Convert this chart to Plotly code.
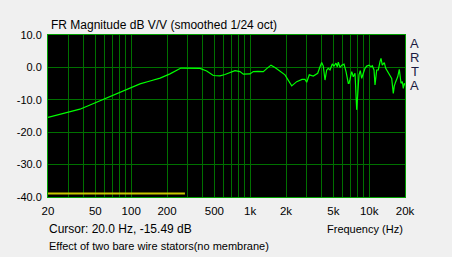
import plotly.graph_objects as go

# Frequency response (Hz, dB)
freq = [20, 30.6, 37.1, 45.1, 54.7, 66.4, 80.5, 97.7, 118.6, 144, 175, 212, 241, 262,
        379, 431, 490, 558, 614, 677, 745, 821, 875, 997, 1062, 1163, 1289, 1385, 1496,
        1616, 1780, 1961, 2234, 2460, 2726, 2888, 2986, 3138, 3392, 3694, 3862, 3990,
        4116, 4254, 4396, 4534, 4686, 4898, 5062, 5262, 5396, 5502, 5686, 5878, 6146,
        6388, 6678, 6768, 6900, 7132, 7356, 7602, 7856, 8010, 8212, 8422, 8652, 8926,
        9224, 9534, 9966, 10360, 10624, 10980, 11194, 11568, 11932, 12330, 12570, 12890,
        13400, 13768, 14312, 14958, 15460, 15948, 16260, 16706, 17368, 17914, 18514,
        18984, 19352, 19730, 20000]
mag_db = [-15.4, -13.7, -12.9, -11.6, -10.3, -8.8, -7.6, -6.4, -5.1, -4.2, -3.3, -2.0, -0.8, -0.2,
          -0.3, -1.1, -2.5, -2.6, -2.2, -1.5, -1.0, -1.3, -2.1, -2.0, -1.3, -1.2, -1.3, -0.3, 0.7,
          0.0, -1.3, -2.3, -5.7, -4.4, -3.7, -3.7, -4.6, -2.3, -2.65, -1.8, 0.2, 1.5,
          0.4, -3.9, -0.8, -0.3, -0.8, 1.05, 0.4, 1.3, 0.2, 1.6, 0.0, 0.7, 1.0,
          -1.3, -4.9, -4.9, -3.7, -1.3, -2.9, -1.8, -13.1, -9.0, -2.3, -1.0, -3.4, -1.8,
          -0.3, 0.4, 0.7, 0.2, 0.5, -0.8, -5.4, -0.8, -0.8, 1.8, 2.8, 0.7,
          1.5, -0.3, -1.3, -2.3, -3.4, -8.0, -5.7, -4.4, -2.9, -0.6, -4.9,
          -4.4, -6.5, -4.9, -5.5]

# Yellow reference line near the bottom
ref_freq = [20, 283]
ref_db = [-38.9, -38.9]

# Axis ticks
grid_freqs = [20, 30, 40, 50, 60, 70, 80, 90, 100, 200, 300, 400, 500, 600, 700, 800, 900,
              1000, 2000, 3000, 4000, 5000, 6000, 7000, 8000, 9000, 10000, 20000]
freq_labels = {20: "20", 50: "50", 100: "100", 200: "200", 500: "500", 1000: "1k",
               2000: "2k", 5000: "5k", 10000: "10k", 20000: "20k"}
y_ticks = [10, 0, -10, -20, -30, -40]
y_labels = ["10.0", "0.0", "-10.0", "-20.0", "-30.0", "-40.0"]

FONT = "Liberation Sans, Arial, sans-serif"
GRID = "#007000"
BORDER = "#00A000"

fig = go.Figure()
fig.add_trace(go.Scatter(x=ref_freq, y=ref_db, mode="lines",
                         line=dict(color="#C8C800", width=2), hoverinfo="skip"))
fig.add_trace(go.Scatter(x=freq, y=mag_db, mode="lines",
                         line=dict(color="#00FF00", width=1.2), hoverinfo="skip"))

fig.update_layout(
    width=452, height=257,
    margin=dict(l=48, r=47, t=35, b=60),
    paper_bgcolor="#F0F0F0", plot_bgcolor="#000000",
    showlegend=False,
    font=dict(family=FONT, size=11, color="#000000"),
    xaxis=dict(type="log", range=[1.30103, 4.30103],
               tickvals=grid_freqs,
               ticktext=[freq_labels.get(f, "") for f in grid_freqs],
               showgrid=True, gridcolor=GRID, gridwidth=1,
               showline=True, linecolor=BORDER, linewidth=1, mirror=True,
               zeroline=False, ticks="", ticklabelstandoff=3,
               tickfont=dict(size=11.5, color="#000000")),
    yaxis=dict(range=[-40, 10], tickvals=y_ticks, ticktext=y_labels,
               showgrid=True, gridcolor=GRID, gridwidth=1,
               showline=True, linecolor=BORDER, linewidth=1, mirror=True,
               zeroline=False, ticks="", ticklabelstandoff=3,
               tickfont=dict(size=11, color="#000000")),
)

annotations = [
    dict(text="FR Magnitude dB V/V (smoothed 1/24 oct)", x=49, y=257 - 25, xanchor="left",
         yanchor="middle", font=dict(size=12, color="#000000")),
    dict(text="Cursor: 20.0 Hz, -15.49 dB", x=47, y=257 - 229, xanchor="left", yanchor="middle",
         font=dict(size=12, color="#000000")),
    dict(text="Frequency (Hz)", x=405, y=257 - 229, xanchor="right", yanchor="middle"),
    dict(text="Effect of two bare wire stators(no membrane)", x=47, y=257 - 246,
         xanchor="left", yanchor="middle"),
]
for i, ch in enumerate("ARTA"):
    annotations.append(dict(text=ch, x=415, y=257 - (43 + 14 * i), xanchor="center",
                            yanchor="middle", font=dict(size=13, color="#1a1a40")))
for a in annotations:
    a.update(xref="paper", yref="paper", showarrow=False)
    a["x"] = (a["x"] - 48) / (452 - 48 - 47)
    a["y"] = (a["y"] - 60) / (257 - 35 - 60)
    a.setdefault("font", dict(size=11, color="#000000"))
fig.update_layout(annotations=annotations)

fig.write_html("out.html")
